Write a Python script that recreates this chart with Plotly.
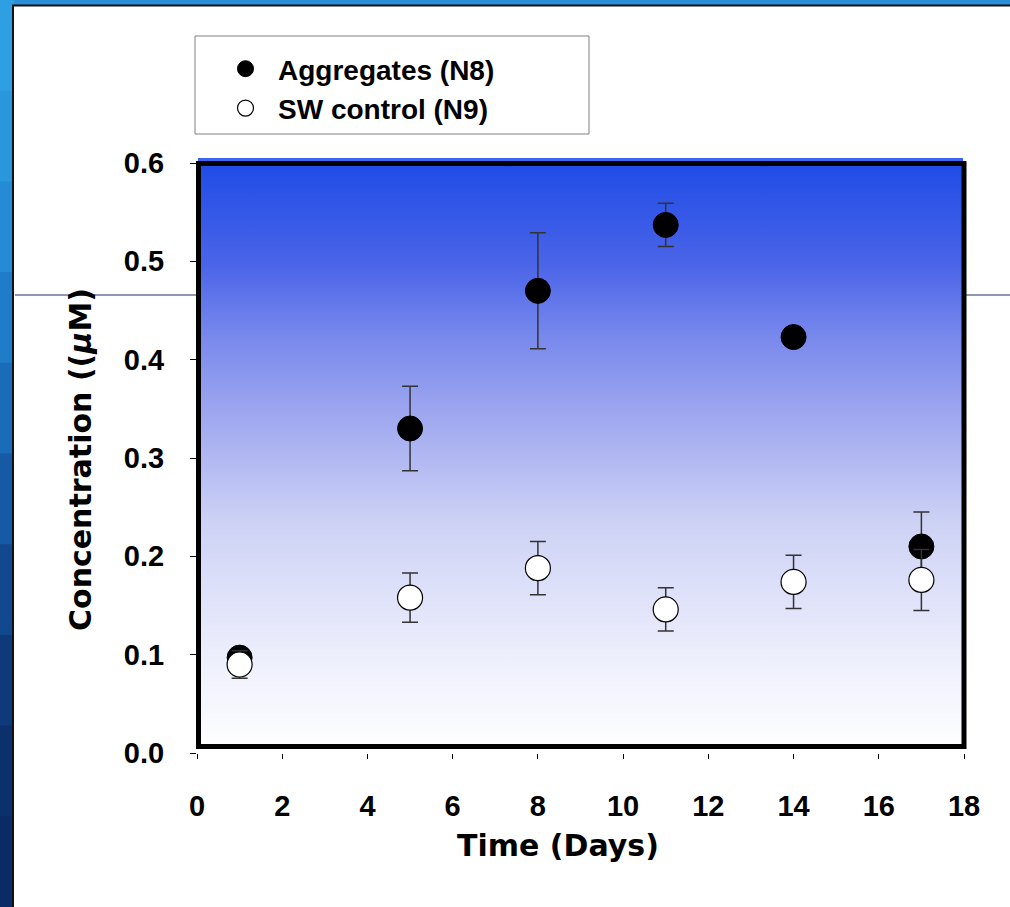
import plotly.graph_objects as go

# ---------------- data ----------------
days = [1, 5, 8, 11, 14, 17]
aggregates = [0.097, 0.330, 0.470, 0.537, 0.423, 0.210]
aggregates_err = [0.008, 0.043, 0.059, 0.022, 0.007, 0.035]
sw_control = [0.090, 0.158, 0.188, 0.146, 0.174, 0.176]
sw_control_err = [0.014, 0.025, 0.027, 0.022, 0.027, 0.031]

x_ticks = [0, 2, 4, 6, 8, 10, 12, 14, 16, 18]
y_ticks = [0.0, 0.1, 0.2, 0.3, 0.4, 0.5, 0.6]
x_range = [0, 18]
y_range = [0, 0.6]

series_names = ["Aggregates (N8)", "SW control (N9)"]
x_title = "Time (Days)"
y_title = "Concentration ((<i>μ</i>M)"

# ---------------- layout geometry ----------------
W, H = 1010, 907
ML, MR, MT, MB = 197, 46, 163, 154
PW, PH = W - ML - MR, H - MT - MB


def px_x(p):
    return (p - ML) / PW


def px_y(p):
    return (H - MB - p) / PH


tick_font = dict(family="Arial, Liberation Sans, sans-serif", size=29, color="black", weight="bold")
title_font = dict(family="Comic Sans MS, DejaVu Sans, sans-serif", size=30, color="black", weight="bold")

fig = go.Figure()

# gradient background of the plotting area
fig.add_trace(go.Scatter(
    x=[x_range[0], x_range[1], x_range[1], x_range[0], x_range[0]],
    y=[y_range[0], y_range[0], y_range[1], y_range[1], y_range[0]],
    mode="none", fill="toself",
    fillgradient=dict(type="vertical", colorscale=[
        [0.0, "#ffffff"], [0.17, "#eceefc"], [0.39, "#cdd2f5"], [0.56, "#a2aaf0"],
        [0.70, "#7a8aec"], [0.83, "#4a64e8"], [1.0, "#1f4ce6"]]),
    showlegend=False, hoverinfo="skip",
))

fig.add_trace(go.Scatter(
    x=days, y=aggregates, name=series_names[0], mode="markers",
    marker=dict(size=25, color="black", line=dict(color="black", width=1)),
    error_y=dict(type="data", array=aggregates_err, visible=True, color="#333333", thickness=1.5, width=8),
))
fig.add_trace(go.Scatter(
    x=days, y=sw_control, name=series_names[1], mode="markers",
    marker=dict(size=25, color="white", line=dict(color="black", width=1.2)),
    error_y=dict(type="data", array=sw_control_err, visible=True, color="#333333", thickness=1.5, width=8),
))

shapes = []
# left blue slide strip (stacked bands, light at top to navy at bottom)
strip_cols = ["#2e9fe2", "#2a97dc", "#258bd4", "#1f7cc8", "#1a6bb8", "#1659a4", "#12488e", "#0f3a7a", "#0c306c", "#0b2b66"]
band = H / len(strip_cols)
for i, c in enumerate(strip_cols):
    shapes.append(dict(type="rect", xref="paper", yref="paper", layer="below",
                       x0=px_x(0), x1=px_x(14), y0=px_y(i * band + band + 1), y1=px_y(i * band),
                       fillcolor=c, line=dict(width=0)))
# white panel
shapes.append(dict(type="rect", xref="paper", yref="paper", layer="below",
                   x0=px_x(13), x1=px_x(W + 10), y0=px_y(H + 10), y1=px_y(5.5),
                   fillcolor="white", line=dict(color="#111111", width=2)))
# horizontal stray line
shapes.append(dict(type="line", xref="paper", yref="paper", layer="below",
                   x0=px_x(15), x1=px_x(W), y0=px_y(295), y1=px_y(295),
                   line=dict(color="#1c2f66", width=1)))
# legend box
shapes.append(dict(type="rect", xref="paper", yref="paper", layer="below",
                   x0=px_x(195), x1=px_x(589), y0=px_y(134), y1=px_y(36),
                   fillcolor="white", line=dict(color="#808080", width=1)))
# thin blue line above the frame
shapes.append(dict(type="line", xref="paper", yref="paper", layer="above",
                   x0=px_x(198), x1=px_x(963), y0=px_y(159.5), y1=px_y(159.5),
                   line=dict(color="#3d66f0", width=3)))
# thick black frame
shapes.append(dict(type="rect", xref="paper", yref="paper", layer="above",
                   x0=px_x(198.5), x1=px_x(964), y0=px_y(746.5), y1=px_y(163.5),
                   line=dict(color="black", width=5)))

annotations = [
    dict(text=x_title, xref="paper", yref="paper", x=px_x(558), y=px_y(845),
         showarrow=False, xanchor="center", yanchor="middle", font=title_font),
    dict(text=y_title, xref="paper", yref="paper", x=px_x(80), y=px_y(459),
         showarrow=False, xanchor="center", yanchor="middle", textangle=-90, font=title_font),
]

fig.update_layout(
    width=W, height=H, autosize=False,
    margin=dict(l=ML, r=MR, t=MT, b=MB, pad=0),
    paper_bgcolor="#2a8fd8", plot_bgcolor="white",
    shapes=shapes, annotations=annotations,
    showlegend=True,
    legend=dict(x=px_x(213), y=px_y(44), xanchor="left", yanchor="top",
                bgcolor="rgba(0,0,0,0)", borderwidth=0,
                font=dict(family="Arial, Liberation Sans, sans-serif", size=28, color="black", weight="bold"),
                tracegroupgap=0, itemsizing="trace", itemwidth=55),
    xaxis=dict(range=x_range, tickvals=x_ticks, ticks="outside", ticklen=5, tickwidth=1, tickcolor="black",
               showgrid=False, zeroline=False, showline=False, tickfont=tick_font, ticklabelstandoff=22),
    yaxis=dict(range=y_range, tickvals=y_ticks, tickformat=".1f", ticks="outside", ticklen=6, tickwidth=1,
               tickcolor="black", showgrid=False, zeroline=False, showline=False, tickfont=tick_font,
               ticklabelstandoff=20),
)

fig.write_html("out.html", config={"displayModeBar": False},
               post_script="document.body.style.margin='0';document.body.style.overflow='hidden';")
